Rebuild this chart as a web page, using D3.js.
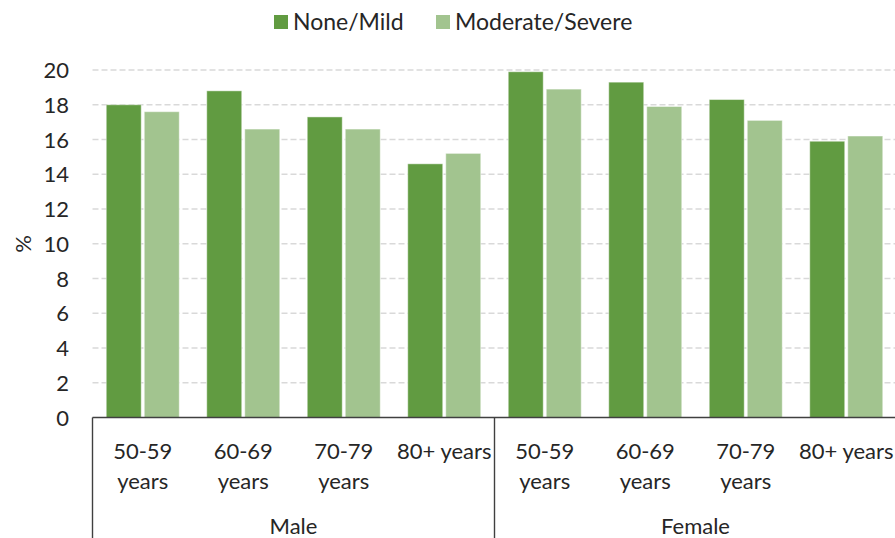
<!DOCTYPE html>
<html>
<head>
<meta charset="utf-8">
<script src="https://cdn.jsdelivr.net/npm/d3@7"></script>
<style>
  body { margin: 0; background: #fff; }
  svg { display: block; font-family: Lato, "Open Sans", sans-serif; }
</style>
</head>
<body>
<div id="chart"></div>
<script>
// data
const genders = ["Male", "Female"];
const ageGroups = [["50-59", "years"], ["60-69", "years"], ["70-79", "years"], ["80+ years"]];
const seriesNames = ["None/Mild", "Moderate/Severe"];
const noneMild = [18.0, 18.8, 17.3, 14.6, 19.9, 19.3, 18.3, 15.9];
const moderateSevere = [17.6, 16.6, 16.6, 15.2, 18.9, 17.9, 17.1, 16.2];
const yTicks = [0, 2, 4, 6, 8, 10, 12, 14, 16, 18, 20];
const colors = ["#619b41", "#a2c48f"];

const w = 895;
const h = 538;
const left = 92.5;
const groupW = 100.5;
const right = left + groupW * 8;
const y0 = 417.5;
const yTop = 70;
const fs = 22;

// one key per category, gender + age group
const keys = [];
genders.forEach(g => ageGroups.forEach((a, i) => keys.push(g + "|" + i)));

const rows = keys.map((k, i) => ({ key: k, values: [noneMild[i], moderateSevere[i]] }));

const x0 = d3.scaleBand().domain(keys).range([left, right]);
const x1 = d3.scaleBand().domain([0, 1]).range([13.75, groupW - 13.75]).paddingInner(0.08);
const y = d3.scaleLinear().domain([0, 20]).range([y0, yTop]);

const svg = d3.select("#chart").append("svg")
  .attr("width", w)
  .attr("height", h);

// gridlines
svg.append("g")
  .selectAll("line")
  .data(yTicks.filter(t => t > 0))
  .enter()
  .append("line")
  .attr("x1", left)
  .attr("x2", right)
  .attr("y1", d => y(d))
  .attr("y2", d => y(d))
  .attr("stroke", "#d9d9d9")
  .attr("stroke-width", 1.3)
  .attr("stroke-dasharray", "6,3");

// y tick labels
svg.append("g")
  .selectAll("text")
  .data(yTicks)
  .enter()
  .append("text")
  .attr("x", 69)
  .attr("y", d => y(d) + 8)
  .attr("text-anchor", "end")
  .attr("font-size", fs)
  .attr("fill", "#262626")
  .text(d => d);

svg.append("text")
  .attr("transform", "translate(31,244) rotate(-90)")
  .attr("text-anchor", "middle")
  .attr("font-size", fs)
  .attr("fill", "#262626")
  .text("%");

// bars
const groups = svg.append("g")
  .selectAll("g")
  .data(rows)
  .enter()
  .append("g")
  .attr("transform", d => "translate(" + x0(d.key) + ",0)");

groups.selectAll("rect")
  .data(d => d.values.map((v, j) => ({ v, j })))
  .enter()
  .append("rect")
  .attr("x", d => x1(d.j))
  .attr("y", d => y(d.v))
  .attr("width", x1.bandwidth())
  .attr("height", d => y0 - y(d.v))
  .attr("fill", d => colors[d.j])
  .attr("stroke", "rgba(255,255,255,0.45)")
  .attr("stroke-width", 1);

// axis lines
const axisColor = "#404040";
svg.append("line")
  .attr("x1", left).attr("x2", right)
  .attr("y1", y0).attr("y2", y0)
  .attr("stroke", axisColor).attr("stroke-width", 1.4);

svg.append("g")
  .selectAll("line")
  .data([0, 4, 8])
  .enter()
  .append("line")
  .attr("x1", d => left + d * groupW)
  .attr("x2", d => left + d * groupW)
  .attr("y1", y0)
  .attr("y2", h)
  .attr("stroke", axisColor)
  .attr("stroke-width", 1.4);

// category labels
const catLabels = svg.append("g")
  .selectAll("text")
  .data(keys)
  .enter()
  .append("text")
  .attr("text-anchor", "middle")
  .attr("font-size", fs)
  .attr("fill", "#262626");

catLabels.each(function (k) {
  const lines = ageGroups[+k.split("|")[1]];
  const cx = x0(k) + groupW / 2;
  d3.select(this).selectAll("tspan")
    .data(lines)
    .enter()
    .append("tspan")
    .attr("x", cx)
    .attr("y", (d, i) => 459 + i * 29.5)
    .text(d => d);
});

svg.append("g")
  .selectAll("text")
  .data(genders)
  .enter()
  .append("text")
  .attr("x", (d, i) => left + (i * 4 + 2) * groupW)
  .attr("y", 534)
  .attr("text-anchor", "middle")
  .attr("font-size", fs)
  .attr("fill", "#262626")
  .text(d => d);

// legend
const legendX = [274, 436];
const legend = svg.append("g")
  .selectAll("g")
  .data(seriesNames)
  .enter()
  .append("g")
  .attr("transform", (d, i) => "translate(" + legendX[i] + ",15)");

legend.append("rect")
  .attr("width", 14)
  .attr("height", 14)
  .attr("fill", (d, i) => colors[i]);

legend.append("text")
  .attr("x", 19)
  .attr("y", 15)
  .attr("font-size", 23)
  .attr("fill", "#262626")
  .text(d => d);
</script>
</body>
</html>
